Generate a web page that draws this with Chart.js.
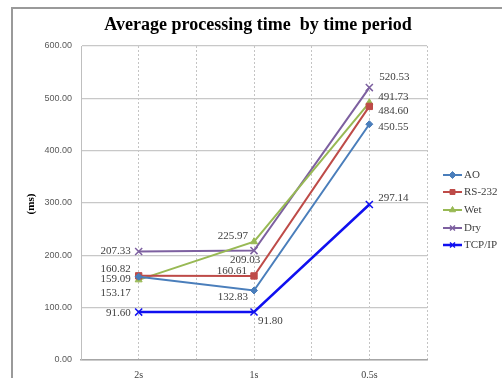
<!DOCTYPE html>
<html>
<head>
<meta charset="utf-8">
<script src="https://cdn.jsdelivr.net/npm/chart.js@4/dist/chart.umd.min.js"></script>
<style>
  html, body { margin: 0; padding: 0; background: #fff; }
  #wrap { position: relative; width: 502px; height: 378px; overflow: hidden; }
</style>
</head>
<body>
<div id="wrap"><canvas id="c" width="502" height="378"></canvas></div>
<script>
// Time periods on the x axis
const periods = ['2s', '1s', '0.5s'];
// Average processing time (ms) per interface
const ao     = [159.09, 132.83, 450.55];
const rs232  = [160.82, 160.61, 484.60];
const wet    = [153.17, 225.97, 491.73];
const dry    = [207.33, 209.03, 520.53];
const tcpip  = [91.60, 91.80, 297.14];
const seriesNames = ['AO', 'RS-232', 'Wet', 'Dry', 'TCP/IP'];
const yTicks = [0, 100, 200, 300, 400, 500, 600];

const seriesValues = [ao, rs232, wet, dry, tcpip];
const styles = [
  { color: '#4a7ebb', point: 'rectRot',  radius: 3.5, width: 2 },
  { color: '#be4b48', point: 'rect',     radius: 4.5, width: 2 },
  { color: '#98b954', point: 'triangle', radius: 4,   width: 2 },
  { color: '#7d60a0', point: 'crossRot', radius: 5,   width: 2 },
  { color: '#1010f0', point: 'crossRot', radius: 5,   width: 2.5 }
];
// Value label placement per series / period: [dx, dy, textAlign]
const labelPlacement = [
  [[-8, 2, 'right'],  [-6, 7, 'right'],  [9, 3, 'left']],
  [[-8, -7, 'right'], [-7, -5, 'right'], [9, 5, 'left']],
  [[-8, 13, 'right'], [-6, -6, 'right'], [9, -6, 'left']],
  [[-8, 0, 'right'],  [-9, 10, 'center'], [10, -10, 'left']],
  [[-8, 1, 'right'],  [4, 9, 'left'],    [9, -6, 'left']]
];

const datasets = seriesValues.map((vals, i) => ({
  label: seriesNames[i],
  data: vals.map((v, k) => ({ x: k, y: v })),
  borderColor: styles[i].color,
  backgroundColor: styles[i].color,
  borderWidth: styles[i].width,
  pointStyle: styles[i].point,
  pointRadius: styles[i].radius,
  pointBorderWidth: styles[i].point === 'crossRot' ? 1.5 : 1,
  pointBorderColor: styles[i].color,
  pointBackgroundColor: styles[i].color,
  tension: 0
}));

const SERIF = '"Liberation Serif", "Times New Roman", serif';
const SANS = '"Liberation Sans", Arial, sans-serif';

const decorations = {
  id: 'decorations',
  beforeDraw(chart) {
    const ctx = chart.ctx;
    ctx.save();
    ctx.fillStyle = '#fff';
    ctx.fillRect(0, 0, chart.width, chart.height);
    ctx.strokeStyle = '#9a9a9a';
    ctx.lineWidth = 2;
    ctx.strokeRect(12, 8, 700, 700);
    ctx.restore();
  },
  afterDraw(chart) {
    const ctx = chart.ctx;
    ctx.save();
    // title
    ctx.fillStyle = '#000';
    ctx.font = 'bold 18px ' + SERIF;
    ctx.textAlign = 'center';
    ctx.textBaseline = 'middle';
    ctx.fillText('Average processing time  by time period', 258, 25);
    // y axis title
    ctx.save();
    ctx.translate(31, 204);
    ctx.rotate(-Math.PI / 2);
    ctx.font = 'bold 11px ' + SERIF;
    ctx.fillText('(ms)', 0, 0);
    ctx.restore();
    // value labels
    ctx.font = '11px ' + SERIF;
    ctx.fillStyle = '#404040';
    ctx.textBaseline = 'middle';
    chart.data.datasets.forEach((ds, i) => {
      const meta = chart.getDatasetMeta(i);
      meta.data.forEach((pt, k) => {
        const p = labelPlacement[i][k];
        ctx.textAlign = p[2];
        ctx.fillText(seriesValues[i][k].toFixed(2), pt.x + p[0], pt.y + p[1]);
      });
    });
    // legend
    const lx = 443, lw = 19;
    const ys = [175, 192, 210, 228, 245];
    ctx.font = '11px ' + SERIF;
    ctx.textAlign = 'left';
    chart.data.datasets.forEach((ds, i) => {
      const y = ys[i];
      ctx.strokeStyle = ds.borderColor;
      ctx.fillStyle = ds.backgroundColor;
      ctx.lineWidth = ds.borderWidth;
      ctx.beginPath();
      ctx.moveTo(lx, y);
      ctx.lineTo(lx + lw, y);
      ctx.stroke();
      ctx.lineWidth = ds.pointBorderWidth;
      Chart.helpers.drawPoint(ctx, {
        pointStyle: ds.pointStyle,
        radius: Math.min(ds.pointRadius, 3.5),
        borderWidth: ds.pointBorderWidth
      }, lx + lw / 2, y);
      ctx.fillStyle = '#404040';
      ctx.fillText(ds.label, lx + lw + 2, y);
    });
    ctx.restore();
  }
};

new Chart(document.getElementById('c'), {
  type: 'line',
  data: { datasets },
  options: {
    responsive: false,
    animation: false,
    events: [],
    layout: { padding: { left: 0, right: 75, top: 46, bottom: 0 } },
    plugins: { legend: { display: false }, title: { display: false }, tooltip: { enabled: false } },
    scales: {
      x: {
        type: 'linear',
        min: -0.5,
        max: 2.5,
        afterFit(s) { s.height = 18; },
        afterBuildTicks(s) {
          s.ticks = [];
          for (let v = -0.5; v <= 2.5001; v += 0.5) s.ticks.push({ value: v });
        },
        ticks: {
          autoSkip: false,
          maxRotation: 0,
          padding: 9,
          color: '#404040',
          font: { family: SERIF, size: 10 },
          callback: v => (Number.isInteger(v) ? periods[v] : '')
        },
        grid: { color: '#c4c4c4', lineWidth: 1, drawTicks: false },
        border: { display: true, color: '#a6a6a6', width: 1.5, dash: [2, 2] }
      },
      y: {
        min: 0,
        max: 600,
        afterFit(s) { s.width = 81; },
        afterBuildTicks(s) { s.ticks = yTicks.map(v => ({ value: v })); },
        ticks: {
          padding: 9,
          color: '#595959',
          font: { family: SANS, size: 9 },
          callback: v => Number(v).toFixed(2)
        },
        grid: { color: '#c8c8c8', lineWidth: 1.2, drawTicks: false },
        border: { display: true, color: '#bfbfbf', width: 1 }
      }
    }
  },
  plugins: [decorations]
});
</script>
</body>
</html>
